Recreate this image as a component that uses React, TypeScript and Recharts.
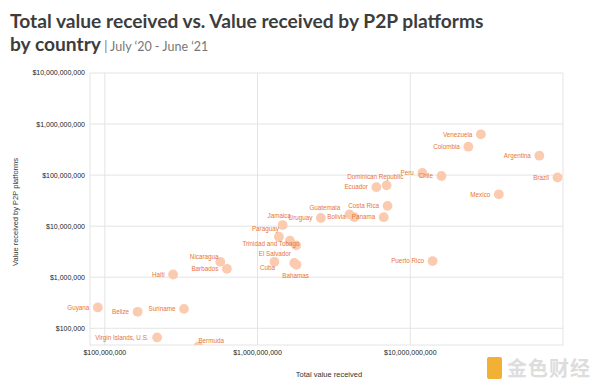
import { ScatterChart, Scatter, XAxis, YAxis, CartesianGrid } from "recharts";

const countries = [
  "Venezuela", "Colombia", "Argentina", "Brazil", "Mexico", "Chile", "Peru",
  "Dominican Republic", "Ecuador", "Costa Rica", "Panama", "Bolivia", "Guatemala",
  "Uruguay", "Jamaica", "Paraguay", "Honduras", "Trinidad and Tobago", "El Salvador",
  "Bahamas", "Cuba", "Nicaragua", "Barbados", "Haiti", "Guyana", "Belize", "Suriname",
  "Virgin Islands, U.S.", "Bermuda", "Puerto Rico",
];

// total value received (USD)
const totalReceived = [
  2.9e10, 2.4e10, 7.0e10, 9.2e10, 3.8e10, 1.6e10, 1.2e10,
  7.0e9, 6.0e9, 7.1e9, 6.7e9, 4.3e9, 4.0e9,
  2.6e9, 1.46e9, 1.38e9, 1.63e9, 1.79e9, 1.74e9,
  1.8e9, 1.29e9, 5.7e8, 6.3e8, 2.8e8, 9.0e7, 1.64e8, 3.3e8,
  2.2e8, 4.1e8, 1.4e10,
];

// value received by P2P platforms (USD)
const p2pReceived = [
  6.3e8, 3.6e8, 2.4e8, 9.0e7, 4.2e7, 9.6e7, 1.1e8,
  6.3e7, 5.8e7, 2.5e7, 1.5e7, 1.5e7, 1.7e7,
  1.45e7, 1.05e7, 6.2e6, 5.2e6, 4.2e6, 1.9e6,
  1.75e6, 2.0e6, 2.0e6, 1.46e6, 1.13e6, 2.56e5, 2.1e5, 2.4e5,
  6.6e4, 4.4e4, 2.07e6,
];

const xTicks = [1e8, 1e9, 1e10];
const yTicks = [1e5, 1e6, 1e7, 1e8, 1e9, 1e10];
const xDomain: [number, number] = [8e7, 1e11];
const yDomain: [number, number] = [4.7e4, 1e10];

const data = countries.map((name, i) => ({ name, total: totalReceived[i], p2p: p2pReceived[i] }));

// label placement tweaks where the default (left of the dot) would collide
type Nudge = { dx: number; dy: number; anchor?: "start" | "end"; hide?: boolean };
const nudges: Record<string, Nudge> = {
  "Dominican Republic": { dx: 16.7, dy: -8.7 },
  Jamaica: { dx: 8.4, dy: -9.7 },
  Paraguay: { dx: 0, dy: -7.7 },
  "Trinidad and Tobago": { dx: 3.3, dy: -1.6 },
  "El Salvador": { dx: -3.3, dy: -8.7 },
  Cuba: { dx: 0.7, dy: 6 },
  Bahamas: { dx: 12.3, dy: 10.5 },
  Nicaragua: { dx: -1.7, dy: -4.7 },
  Guatemala: { dx: -9.3, dy: -7 },
  Bermuda: { dx: 0, dy: -4, anchor: "start" },
  Honduras: { dx: 0, dy: 0, hide: true },
};

const ORANGE = "#e8743b";
const PEACH = "#fbcbb0";
const LABEL_FONT = "'Liberation Sans', Arial, sans-serif";

const fmt = (v: number) => "$" + Math.round(v).toLocaleString("en-US");

const Dot = (props: any) => {
  const { cx, cy } = props;
  if (cx == null || cy == null) return null;
  return <circle cx={cx} cy={cy} r={4.9} fill={PEACH} />;
};

const Name = (props: any) => {
  const { cx, cy, payload } = props;
  if (cx == null || cy == null) return null;
  const n = nudges[payload.name] ?? { dx: -8.5, dy: 0 };
  if (n.hide) return null;
  return (
    <text
      x={cx + n.dx}
      y={cy + n.dy}
      dy="0.35em"
      textAnchor={n.anchor ?? "end"}
      fontSize={6.3}
      fontFamily={LABEL_FONT}
      fill={ORANGE}
    >
      {payload.name}
    </text>
  );
};

export default function App() {
  const tick = { fontSize: 7, fill: "#222", fontFamily: LABEL_FONT };
  return (
    <div style={{ position: "absolute", left: 0, top: 0, width: 600, height: 388, background: "#fff", overflow: "hidden" }}>
      <div style={{ position: "absolute", left: 10, top: 9, fontFamily: "Lato, sans-serif", color: "#3d3d3d", fontSize: 19.2, fontWeight: 700, lineHeight: "23px" }}>
        Total value received vs. Value received by P2P platforms
        <br />
        by country
        <span style={{ fontWeight: 400, fontSize: 12.5, color: "#777" }}> | July ‘20 - June ‘21</span>
      </div>

      <div style={{ position: "absolute", left: 0, top: 0 }}>
        <ScatterChart width={600} height={388} margin={{ top: 73, right: 37, bottom: 0, left: 0 }}>
          <CartesianGrid stroke="#e4e4e4" />
          <XAxis
            dataKey="total"
            type="number"
            scale="log"
            domain={xDomain}
            ticks={xTicks}
            interval={0}
            allowDataOverflow
            height={43}
            axisLine={false}
            tickLine={false}
            tickSize={3}
            tickMargin={2}
            tick={tick}
            tickFormatter={fmt}
          />
          <YAxis
            dataKey="p2p"
            type="number"
            scale="log"
            domain={yDomain}
            ticks={yTicks}
            interval={0}
            allowDataOverflow
            width={90}
            axisLine={false}
            tickLine={false}
            tickSize={3}
            tickMargin={2}
            tick={tick}
            tickFormatter={fmt}
          />
          {/* unclipped twin axes so names may run past the plot edge */}
          <XAxis xAxisId="names" dataKey="total" type="number" scale="log" domain={xDomain} hide />
          <YAxis
            yAxisId="names"
            dataKey={(d: any) => Math.max(d.p2p, yDomain[0])}
            type="number"
            scale="log"
            domain={yDomain}
            hide
          />
          <Scatter data={data} shape={Dot} isAnimationActive={false} />
          <Scatter data={data} xAxisId="names" yAxisId="names" shape={Name} isAnimationActive={false} />
        </ScatterChart>
      </div>

      <div style={{ position: "absolute", left: 0, width: 600, paddingLeft: 58, boxSizing: "border-box", top: 370, textAlign: "center", fontSize: 7.5, fontFamily: LABEL_FONT, color: "#333" }}>
        Total value received
      </div>
      <div style={{ position: "absolute", left: 15, top: 212, width: 0, height: 0 }}>
        <div style={{ position: "absolute", transform: "translate(-50%, -50%) rotate(-90deg)", whiteSpace: "nowrap", fontSize: 7.5, fontFamily: LABEL_FONT, color: "#333" }}>
          Value received by P2P platforms
        </div>
      </div>

      <div style={{ position: "absolute", left: 487, top: 353, display: "flex", alignItems: "center", gap: 5 }}>
        <div style={{ width: 15, height: 22, background: "#f2b134", borderRadius: 2 }} />
        <span style={{ fontFamily: "'Noto Sans CJK SC', sans-serif", fontSize: 20, color: "#ddd", fontWeight: 700, letterSpacing: 1 }}>金色财经</span>
      </div>
    </div>
  );
}
